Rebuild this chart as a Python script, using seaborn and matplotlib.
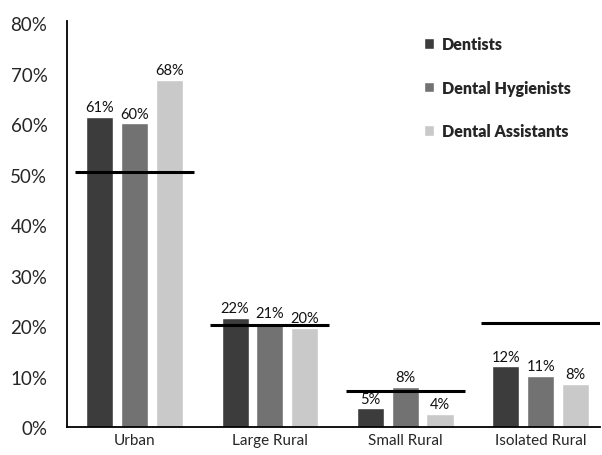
import pandas as pd
import matplotlib.pyplot as plt
import seaborn as sns

# Data
regions = ['Urban', 'Large Rural', 'Small Rural', 'Isolated Rural']
groups = ['Dentists', 'Dental Hygienists', 'Dental Assistants']
dentists = [61.4, 21.7, 3.7, 12.0]
hygienists = [60.2, 20.7, 7.9, 10.2]
assistants = [68.8, 19.7, 2.6, 8.5]
dentists_lbl = ['61%', '22%', '5%', '12%']
hygienists_lbl = ['60%', '21%', '8%', '11%']
assistants_lbl = ['68%', '20%', '4%', '8%']
population = [50.5, 20.3, 7.1, 20.7]  # reference lines per region
colors = ['#3c3c3c', '#727272', '#c9c9c9']

df = pd.DataFrame({
    'Region': regions * 3,
    'Group': [g for g in groups for _ in regions],
    'Value': dentists + hygienists + assistants,
})

sns.set_style('white')
plt.rcParams['font.family'] = ['Lato', 'DejaVu Sans']

fig = plt.figure(figsize=(6.02, 4.56), dpi=100)
ax = fig.add_axes([0.111, 0.0614, 0.886, 0.8906])

sns.barplot(data=df, x='Region', y='Value', hue='Group', order=regions,
            hue_order=groups, palette=colors, width=0.77, gap=0.22,
            saturation=1, ax=ax)

for cont, lbls in zip(ax.containers, [dentists_lbl, hygienists_lbl, assistants_lbl]):
    ax.bar_label(cont, labels=lbls, padding=2, fontsize=10.5, color='#111111')

for i, p in enumerate(population):
    ax.hlines(p, i - 0.44, i + 0.44, color='black', lw=2.2, zorder=5)

ax.set_ylim(0, 80.5)
ax.set_xlim(-0.5, 3.44)
ax.set_yticks(range(0, 81, 10))
ax.set_yticklabels([f'{v}%' for v in range(0, 81, 10)], fontsize=13.5)
ax.tick_params(axis='y', length=0, pad=14)
ax.tick_params(axis='x', length=0, pad=4, labelsize=11)
ax.set_xlabel('')
ax.set_ylabel('')

for s in ['top', 'right']:
    ax.spines[s].set_visible(False)
for s in ['left', 'bottom']:
    ax.spines[s].set_color('black')
    ax.spines[s].set_linewidth(1.3)

leg = ax.legend(loc='upper left', bbox_to_anchor=(0.643, 0.998), frameon=False,
                handlelength=0.62, handleheight=0.62, handletextpad=0.5,
                labelspacing=1.72, prop={'weight': 'heavy', 'size': 11.5})

fig.savefig('out.png', dpi=100)
